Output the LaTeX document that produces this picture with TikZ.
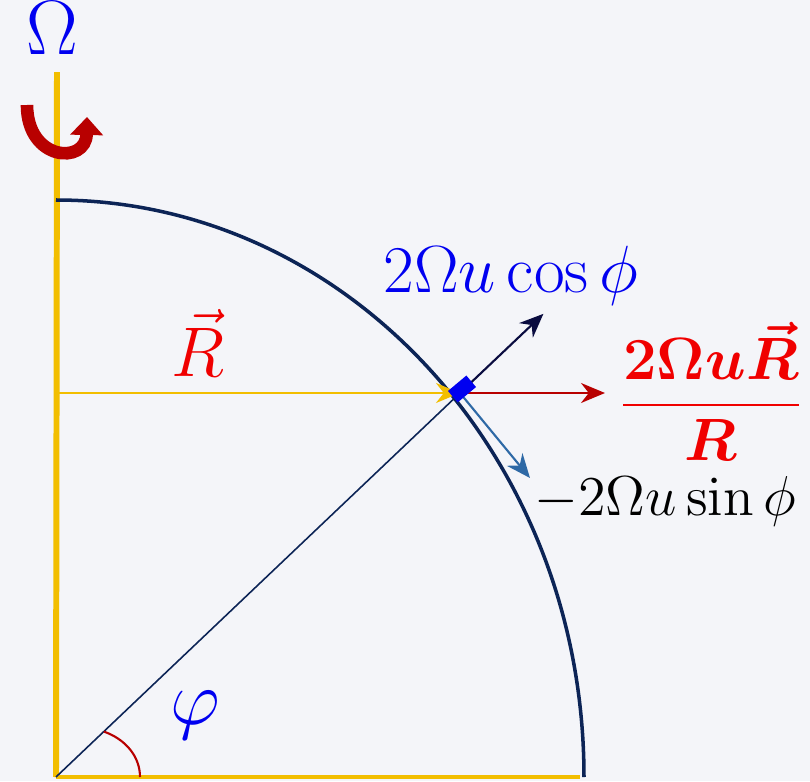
\RequirePackage{fix-cm}
\documentclass[tikz,border=0pt]{standalone}
\usepackage{amsmath}
\usepackage{bm}
\usetikzlibrary{arrows.meta,calc,positioning}
\definecolor{bgFill}{HTML}{F4F5F9}
\definecolor{axisGold}{HTML}{F2BE00}
\definecolor{arcNavy}{HTML}{0C2456}
\definecolor{upNavy}{HTML}{0A0C40}
\definecolor{tanBlue}{HTML}{2E69A6}
\definecolor{spinRed}{HTML}{B80000}
\definecolor{lblBlue}{HTML}{0000F0}
\definecolor{lblRed}{HTML}{F00000}
\newcommand{\FigHuge}{\fontsize{22}{26}\selectfont}
\newcommand{\FigBig}{\fontsize{20}{24}\selectfont}
\newcommand{\FigMid}{\fontsize{19}{22}\selectfont}
\newcommand{\FigSmall}{\fontsize{16}{19}\selectfont}
\newcommand{\FigFrac}{\fontsize{17}{20}\selectfont}

\begin{document}
\begin{tikzpicture}[
  axis/.style  = {draw=axisGold, line width=1.7pt},
  vec/.style   = {-{Stealth[length=2.4mm,width=2mm]}, line width=0.6pt},
  lbl/.style   = {inner sep=1pt},
]
\fill[bgFill] (0,0) rectangle (8.10,7.81);
\useasboundingbox (0,0) rectangle (8.10,7.81);

% ---------------------------------------------------------------- frame
\coordinate (O)   at (0.56,0.04);
\coordinate (top) at (0.57,7.09);
\coordinate (bot) at (5.80,0.04);
\coordinate (P)   at (4.60,3.88);
\coordinate (ax)  at (0.57,3.88);

\draw[axis] (O) -- (top);
\draw[axisGold, line width=0.9pt] (O) -- (bot);

% quarter of the meridian
\draw[arcNavy, line width=1pt] (0.56,5.81) arc[start angle=90, end angle=0,
  x radius=5.28, y radius=5.77];

% radius to the particle and the angle
\draw[arcNavy, line width=0.45pt] (O) -- (P);
\draw[spinRed, line width=0.6pt] ($(O)+(43.5:0.66)$) .. controls (1.25,0.42) and (1.40,0.25) .. (1.40,0.04);

% ---------------------------------------------------------------- vectors
\coordinate (upEnd)  at ($(P)+(43.5:1.15)$);
\coordinate (tanEnd) at (5.30,3.03);
\coordinate (redEnd) at (6.05,3.88);

\draw[vec, draw=axisGold, line width=0.5pt] (ax) -- (P);
\draw[vec, draw=spinRed] (P) -- (redEnd);
\draw[vec, draw=tanBlue] (P) -- (tanEnd);
\draw[vec, draw=upNavy] (P) -- (upEnd);
\node[fill=lblBlue, minimum width=2.4mm, minimum height=1.5mm, inner sep=0pt,
      rotate=40] (box) at (4.62,3.92) {};

% ---------------------------------------------------------------- rotation
\draw[spinRed, line width=3.6pt, -{Triangle[length=1.8mm,width=3.2mm]}]
  (0.27,6.76) .. controls (0.27,6.20) and (0.86,6.16) .. (0.87,6.64);

% ---------------------------------------------------------------- labels
\node[lbl, text=lblBlue, font=\FigHuge, anchor=base] (omega) at (0.52,7.27) {$\Omega$};
\node[lbl, text=lblRed, font=\FigBig] (rvec) at (1.98,4.38) {$\vec{R}$};
\node[lbl, text=lblBlue, font=\FigHuge] (phi) at (1.95,0.66) {$\varphi$};
\node[lbl, text=lblBlue, font=\FigMid, anchor=base] (cosl) at (5.11,4.89) {$2\Omega u\cos\phi$};
\node[lbl, text=black, font=\FigSmall, anchor=base] (sinl) at (6.65,2.66) {$-2\Omega u\sin\phi$};
\node[lbl, text=lblRed, font=\FigFrac, anchor=base] (frac) at (7.11,3.61)
  {$\dfrac{\bm{2\Omega u\vec{R}}}{\bm{R}}$};
\end{tikzpicture}
\end{document}
